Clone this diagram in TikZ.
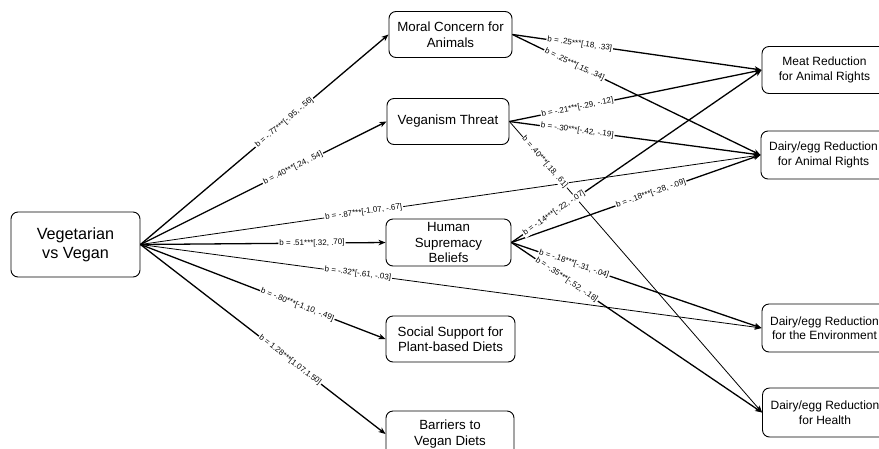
\documentclass[tikz,border=0pt]{standalone}
\usepackage{fontspec}
\setmainfont{Liberation Sans}
\usetikzlibrary{arrows.meta}
\begin{document}
\begin{tikzpicture}[x=1pt,y=-1pt,
  box/.style={draw, rounded corners=7pt, line width=0.9pt, minimum width=123pt, minimum height=46pt,
    inner sep=0pt, align=center, font=\fontsize{13.3}{15.5}\selectfont},
  rbox/.style={box, font=\fontsize{12}{14.5}\selectfont, minimum width=125pt, minimum height=48pt},
  edge/.style={line width=1.3pt, -{Stealth[length=7pt,width=5.5pt,inset=2pt]}},
  thinedge/.style={edge, line width=0.8pt},
  lbl/.style={fill=white, inner sep=1pt, font=\fontsize{8}{9}\selectfont, sloped}
]
\useasboundingbox (0,0) rectangle (879,448);

% nodes
\node[box, minimum width=129pt, minimum height=65pt, font=\fontsize{16.2}{19}\selectfont] (vv) at (75.5,244.5) {Vegetarian\\vs Vegan};
\node[box] (moral) at (450.5,34.5) {Moral Concern for\\Animals};
\node[box, minimum width=122pt] (threat) at (448,121.5) {Veganism Threat};
\node[box, minimum width=125pt, minimum height=47pt] (human) at (448.5,242.5) {Human\\Supremacy\\Beliefs};
\node[box, minimum width=129pt] (social) at (450.5,339) {Social Support for\\Plant-based Diets};
\node[box, minimum width=128pt] (barriers) at (450,434) {Barriers to\\Vegan Diets};
\node[rbox, minimum height=47pt] (meat) at (824.5,70) {Meat Reduction\\for Animal Rights};
\node[rbox] (dar) at (823.5,155) {Dairy/egg Reduction\\for Animal Rights};
\node[rbox] (env) at (824.5,328) {Dairy/egg Reduction\\for the Environment};
\node[rbox, minimum height=49pt] (health) at (825,412.5) {Dairy/egg Reduction\\for Health};

% edges
\draw[edge] (vv.east) -- (moral.west);
\draw[edge] (vv.east) -- (threat.west);
\draw[thinedge] (vv.east) -- (dar.west);
\draw[edge] (vv.east) -- (human.west);
\draw[thinedge] (vv.east) -- (env.west);
\draw[edge] (vv.east) -- (social.west);
\draw[edge] (vv.east) -- (barriers.west);

\draw[edge] (moral.east) -- (meat.west);
\draw[edge] (moral.east) -- (dar.west);
\draw[edge] (threat.east) -- (meat.west);
\draw[edge] (threat.east) -- (dar.west);
\draw[thinedge] (threat.east) -- (health.west);
\draw[edge] (human.east) -- (meat.west);
\draw[edge] (human.east) -- (dar.west);
\draw[edge] (human.east) -- (env.west);
\draw[edge] (human.east) -- (health.west);

% labels (on top of all lines)
\path (vv.east) -- (moral.west) node[lbl,pos=0.58] {b = -.77***[-.95, -.56]};
\path (vv.east) -- (threat.west) node[lbl,pos=0.62] {b = .40***[.24, .54]};
\path (vv.east) -- (dar.west) node[lbl,pos=0.36] {b = -.87***[-1.07, -.67]};
\path (vv.east) -- (human.west) node[lbl,pos=0.70] {b = .51***[.32, .70]};
\path (vv.east) -- (env.west) node[lbl,pos=0.35] {b = -.32*[-.61, -.03]};
\path (vv.east) -- (social.west) node[lbl,pos=0.64] {b = -.80***[-1.10, -.49]};
\path (vv.east) -- (barriers.west) node[lbl,pos=0.61] {b = 1.28***[1.07,1.50]};

\path (moral.east) -- (meat.west) node[lbl,pos=0.27] {b = .25***[.18, .33]};
\path (moral.east) -- (dar.west) node[lbl,pos=0.25] {b = .25***[.15, .34]};
\path (threat.east) -- (meat.west) node[lbl,pos=0.27] {b = -.21***[-.29, -.12]};
\path (threat.east) -- (dar.west) node[lbl,pos=0.27] {b = -.30***[-.42, -.19]};
\path (threat.east) -- (health.west) node[lbl,pos=0.14] {b = .40***[.18, .61]};
\path (human.east) -- (meat.west) node[lbl,pos=0.17] {b = -.14***[-.22, -.07]};
\path (human.east) -- (dar.west) node[lbl,pos=0.56] {b = -.18***[-.28, -.09]};
\path (human.east) -- (env.west) node[lbl,pos=0.25] {b = -.18***[-.31, -.04]};
\path (human.east) -- (health.west) node[lbl,pos=0.22] {b = -.35***[-.52, -.18]};
\end{tikzpicture}
\end{document}
